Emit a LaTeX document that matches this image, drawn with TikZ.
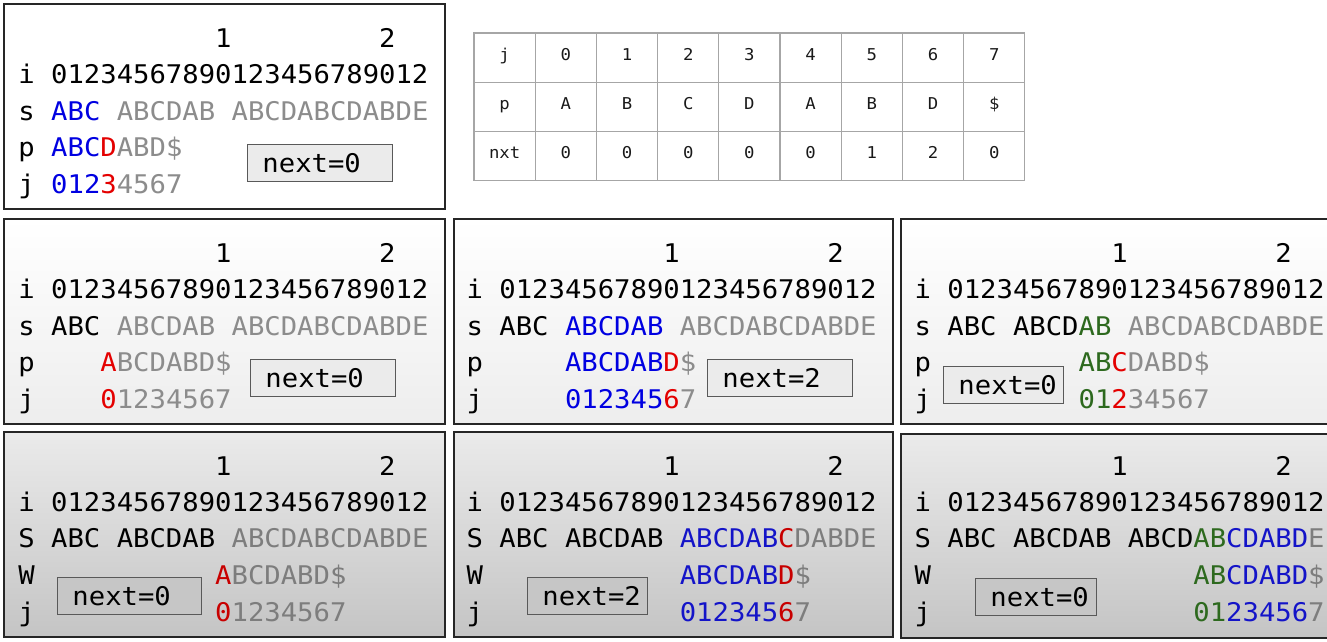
\documentclass[tikz,border=0pt]{standalone}
\usepackage{fontspec}
\setmonofont[FakeStretch=1.06]{DejaVu Sans Mono}
\usetikzlibrary{positioning}

\definecolor{blu}{RGB}{0,0,225}
\definecolor{rd}{RGB}{228,0,0}
\definecolor{grn}{RGB}{45,105,30}
\definecolor{gry}{RGB}{140,140,140}
\definecolor{blu3}{RGB}{20,20,200}
\definecolor{rd3}{RGB}{200,0,0}
\definecolor{gry3}{RGB}{125,125,125}

\newcommand\mono{\ttfamily\fontsize{25.7}{30}\selectfont}
\newcommand\gap[1]{\hspace*{#1\fontcharwd\font`0}}

\begin{document}
\begin{tikzpicture}[
    x=1pt, y=-1pt,
    panel/.style={draw=black!85, line width=1.4pt},
    row/.style={anchor=base west, inner sep=0pt, font=\mono},
    nextbox/.style={draw=black!65, line width=0.9pt, fill=#1, anchor=north west, minimum height=37pt, inner xsep=15pt, inner ysep=0pt, align=left, font=\mono},
    cell/.style={draw=gray!70, line width=1.1pt, minimum width=61.2pt, minimum height=49.3pt, inner sep=0pt, text height=1.5ex, text depth=.3ex, text=black!90, font=\ttfamily\fontsize{16.3}{19}\selectfont}
]
\clip (0,0) rectangle (1327,641);

% Panels
\draw[panel, fill=white] (4,4) rectangle (445,209);
\draw[panel, top color=white, bottom color=gray!14] (4,219) rectangle (445,424);
\draw[panel, top color=white, bottom color=gray!14] (454,219) rectangle (893,424);
\draw[panel, top color=white, bottom color=gray!14] (901,219) rectangle (1345,424);
\draw[panel, top color=gray!16, bottom color=gray!46] (4,432) rectangle (445,637);
\draw[panel, top color=gray!16, bottom color=gray!46] (454,432) rectangle (893,637);
\draw[panel, top color=gray!16, bottom color=gray!46] (901,434) rectangle (1345,638);

% Table of nxt
\foreach \v [count=\c from 0] in {j,0,1,2,3,4,5,6,7}
  \node[cell] (j\c) at (504.6+61.2*\c, 57.6) {\v};
\foreach \v [count=\c from 0] in {p,A,B,C,D,A,B,D,\$}
  \node[cell] (p\c) at (504.6+61.2*\c, 106.9) {\v};
\foreach \v [count=\c from 0] in {nxt,0,0,0,0,0,1,2,0}
  \node[cell] (n\c) at (504.6+61.2*\c, 156.2) {\v};

% Step a
\node[row] (a-top) at (18.2,47) {\gap{12}1\gap{9}2};
\node[row] (a-i) at (18.2,83.5) {i 01234567890123456789012};
\node[row] (a-s) at (18.2,120) {s {\color{blu}ABC} {\color{gry}ABCDAB ABCDABCDABDE}};
\node[row] (a-p) at (18.2,156.5) {p {\color{blu}ABC}{\color{rd}D}{\color{gry}ABD\$}};
\node[row] (a-j) at (18.2,193) {j {\color{blu}012}{\color{rd}3}{\color{gry}4567}};
\node[nextbox=gray!16, text width=115pt] (a-next) at (247,144) {next=0};

% Step b
\node[row] (b-top) at (18.2,262) {\gap{12}1\gap{9}2};
\node[row] (b-i) at (18.2,298.5) {i 01234567890123456789012};
\node[row] (b-s) at (18.2,335) {s ABC {\color{gry}ABCDAB ABCDABCDABDE}};
\node[row] (b-p) at (18.2,371.5) {p\gap{4}{\color{rd}A}{\color{gry}BCDABD\$}};
\node[row] (b-j) at (18.2,408) {j\gap{4}{\color{rd}0}{\color{gry}1234567}};
\node[nextbox=gray!16, text width=115pt] (b-next) at (250,359) {next=0};

% Step c
\node[row] (c-top) at (466.4,262) {\gap{12}1\gap{9}2};
\node[row] (c-i) at (466.4,298.5) {i 01234567890123456789012};
\node[row] (c-s) at (466.4,335) {s ABC {\color{blu}ABCDAB} {\color{gry}ABCDABCDABDE}};
\node[row] (c-p) at (466.4,371.5) {p\gap{5}{\color{blu}ABCDAB}{\color{rd}D}{\color{gry}\$}};
\node[row] (c-j) at (466.4,408) {j\gap{5}{\color{blu}012345}{\color{rd}6}{\color{gry}7}};
\node[nextbox=gray!16, text width=115pt] (c-next) at (707,359) {next=2};

% Step d
\node[row] (d-top) at (914.4,262) {\gap{12}1\gap{9}2};
\node[row] (d-i) at (914.4,298.5) {i 01234567890123456789012};
\node[row] (d-s) at (914.4,335) {s ABC ABCD{\color{grn}AB} {\color{gry}ABCDABCDABDE}};
\node[row] (d-p) at (914.4,371.5) {p\gap{9}{\color{grn}AB}{\color{rd}C}{\color{gry}DABD\$}};
\node[row] (d-j) at (914.4,408) {j\gap{9}{\color{grn}01}{\color{rd}2}{\color{gry}34567}};
\node[nextbox=gray!16, text width=90pt] (d-next) at (943,366) {next=0};

% Step e
\node[row] (e-top) at (18.2,475) {\gap{12}1\gap{9}2};
\node[row] (e-i) at (18.2,511) {i 01234567890123456789012};
\node[row] (e-s) at (18.2,547.5) {S ABC ABCDAB {\color{gry3}ABCDABCDABDE}};
\node[row] (e-w) at (18.2,584.5) {W\gap{11}{\color{rd3}A}{\color{gry3}BCDABD\$}};
\node[row] (e-j) at (18.2,621) {j\gap{11}{\color{rd3}0}{\color{gry3}1234567}};
\node[nextbox=gray!45, text width=114pt] (e-next) at (57,577) {next=0};

% Step f
\node[row] (f-top) at (466.4,475) {\gap{12}1\gap{9}2};
\node[row] (f-i) at (466.4,511) {i 01234567890123456789012};
\node[row] (f-s) at (466.4,547.5) {S ABC ABCDAB {\color{blu3}ABCDAB}{\color{rd3}C}{\color{gry3}DABDE}};
\node[row] (f-w) at (466.4,584.5) {W\gap{12}{\color{blu3}ABCDAB}{\color{rd3}D}{\color{gry3}\$}};
\node[row] (f-j) at (466.4,621) {j\gap{12}{\color{blu3}012345}{\color{rd3}6}{\color{gry3}7}};
\node[nextbox=gray!45, text width=90pt] (f-next) at (527,577) {next=2};

% Step g
\node[row] (g-top) at (914.4,475) {\gap{12}1\gap{9}2};
\node[row] (g-i) at (914.4,511) {i 01234567890123456789012};
\node[row] (g-s) at (914.4,547.5) {S ABC ABCDAB ABCD{\color{grn}AB}{\color{blu3}CDABD}{\color{gry3}E}};
\node[row] (g-w) at (914.4,584.5) {W\gap{16}{\color{grn}AB}{\color{blu3}CDABD}{\color{gry3}\$}};
\node[row] (g-j) at (914.4,621) {j\gap{16}{\color{grn}01}{\color{blu3}23456}{\color{gry3}7}};
\node[nextbox=gray!45, text width=91pt] (g-next) at (975,578) {next=0};

\end{tikzpicture}
\end{document}
